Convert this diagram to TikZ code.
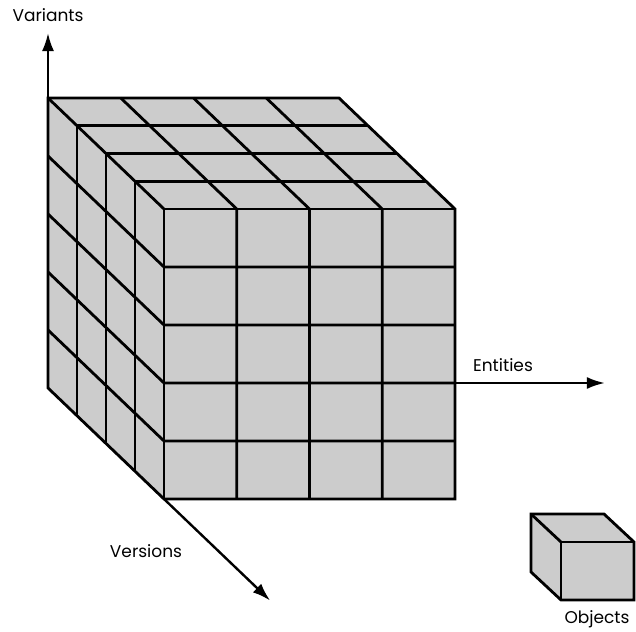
\documentclass[tikz,border=0pt]{standalone}
\usepackage{fontspec}
\setmainfont{Poppins}
\usetikzlibrary{arrows.meta}
\definecolor{cubegray}{HTML}{CCCCCC}
\tikzset{
  face/.style={fill=cubegray},
  edge/.style={line width=2.8pt, line join=miter},
  axis/.style={-{Latex[length=18pt,width=12pt]}, line width=2.4pt},
  axislabel/.style={font=\fontsize{17}{20}\selectfont, anchor=base, inner sep=0pt},
  iso/.style={x={(72.75pt,0pt)}, y={(0pt,58pt)}, z={(-29pt,27.75pt)}}
}

\begin{document}
\begin{tikzpicture}[x=1pt,y=1pt]
  \useasboundingbox (0,0) rectangle (636,631);

  \begin{scope}[shift={(164,132)}, iso]
    \coordinate (frontbl) at (0,0,0);
    \coordinate (backbl) at (0,0,4);
    \coordinate (backtl) at (0,5,4);
    \coordinate (rowtwo) at (4,2,0);
    \coordinate (variantstip) at (0,6.12,4);
    \coordinate (entitiestip) at (6.06,2,0);
    \coordinate (versionstip) at (0,0,-3.66);

    \fill[face] (0,0,0) rectangle (4,5,0);
    \fill[face] (0,5,0) -- (4,5,0) -- (4,5,4) -- (0,5,4) -- cycle;
    \fill[face] (0,0,0) -- (0,5,0) -- (0,5,4) -- (0,0,4) -- cycle;

    \foreach \i in {1,...,3} \draw[edge] (\i,0,0) -- (\i,5,0) -- (\i,5,4);
    \foreach \j in {1,...,4} \draw[edge] (4,\j,0) -- (0,\j,0) -- (0,\j,4);
    \foreach \k in {1,...,3} \draw[edge] (4,5,\k) -- (0,5,\k) -- (0,0,\k);
    \draw[edge] (0,0,0) -- (0,5,0) -- (4,5,0);
    \draw[edge] (0,5,0) -- (0,5,4);
    \draw[edge] (0,0,0) -- (4,0,0) -- (4,5,0) -- (4,5,4) -- (0,5,4) -- (0,0,4) -- cycle;

    \draw[axis] (backtl) -- (variantstip);
    \draw[axis] (rowtwo) -- (entitiestip);
    \draw[axis] (frontbl) -- (versionstip);
  \end{scope}

  \begin{scope}[shift={(561,31)}, x={(73pt,0pt)}, y={(0pt,58pt)}, z={(-30pt,28pt)}]
    \fill[face] (0,0,0) rectangle (1,1,0);
    \fill[face] (0,1,0) -- (1,1,0) -- (1,1,1) -- (0,1,1) -- cycle;
    \fill[face] (0,0,0) -- (0,1,0) -- (0,1,1) -- (0,0,1) -- cycle;
    \draw[edge] (0,0,0) -- (0,1,0) -- (1,1,0);
    \draw[edge] (0,1,0) -- (0,1,1);
    \draw[edge] (0,0,0) -- (1,0,0) -- (1,1,0) -- (1,1,1) -- (0,1,1) -- (0,0,1) -- cycle;
  \end{scope}

  \node[axislabel] (variants) at (48,609) {Variants};
  \node[axislabel] (entities) at (503,259) {Entities};
  \node[axislabel] (versions) at (146,74) {Versions};
  \node[axislabel] (objects) at (597,8) {Objects};
\end{tikzpicture}
\end{document}
